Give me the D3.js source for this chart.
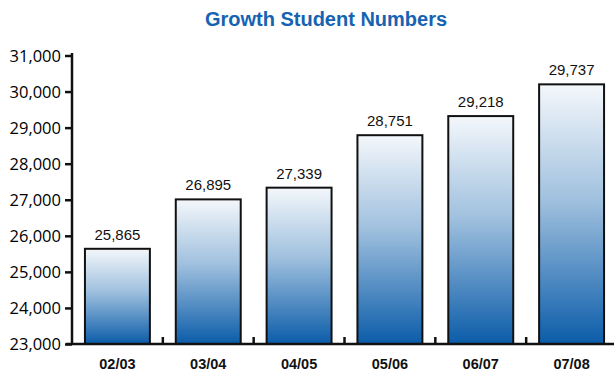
<!DOCTYPE html>
<html lang="en">
<head>
    <meta charset="UTF-8">
    <title>Growth Student Numbers</title>
    <script src="https://d3js.org/d3.v7.min.js"></script>
    <style>
        html, body {
            margin: 0;
            padding: 0;
            background: #fff;
        }
        svg {
            display: block;
        }
        .y-axis text {
            font-family: "Open Sans", sans-serif;
            font-size: 16.5px;
            fill: #000;
        }
        .x-axis text {
            font-family: "Liberation Sans", Arial, sans-serif;
            font-size: 14.5px;
            font-weight: bold;
            fill: #111;
        }
    </style>
</head>
<body>
    <svg id="chart"></svg>

    <script>
        // school years on the x axis
        const years = ["02/03", "03/04", "04/05", "05/06", "06/07", "07/08"];
        // numbers printed above the bars
        const printed = [25865, 26895, 27339, 28751, 29218, 29737];
        // bar heights as drawn in the picture (they don't quite match the printed numbers)
        const plotted = [25640, 27010, 27335, 28790, 29320, 30200];
        const yTicks = [23000, 24000, 25000, 26000, 27000, 28000, 29000, 30000, 31000];

        const width = 614, height = 371;

        const svg = d3.select("#chart")
            .attr("width", width)
            .attr("height", height);

        const defs = svg.append("defs");
        const grad = defs.append("linearGradient")
            .attr("id", "barFill")
            .attr("x1", 0).attr("y1", 0)
            .attr("x2", 0).attr("y2", 1);
        grad.append("stop").attr("offset", "0%").attr("stop-color", "#f4f7fb");
        grad.append("stop").attr("offset", "45%").attr("stop-color", "#9fc0de");
        grad.append("stop").attr("offset", "100%").attr("stop-color", "#0b5ca9");

        const x = d3.scaleBand()
            .domain(years)
            .range([72, 617])
            .paddingInner(0.285)
            .paddingOuter(0.1425);

        const y = d3.scaleLinear()
            .domain([23000, 31000])
            .range([344, 55.5]);

        // title
        svg.append("text")
            .attr("x", 326)
            .attr("y", 26)
            .attr("text-anchor", "middle")
            .style("font-family", "'Liberation Sans', Arial, sans-serif")
            .style("font-weight", "bold")
            .style("font-size", "20px")
            .style("fill", "#1663b1")
            .text("Growth Student Numbers");

        // bars
        svg.selectAll("rect.bar")
            .data(years)
            .enter()
            .append("rect")
            .attr("class", "bar")
            .attr("x", d => x(d))
            .attr("y", (d, i) => y(plotted[i]))
            .attr("width", x.bandwidth())
            .attr("height", (d, i) => y(23000) - y(plotted[i]))
            .attr("fill", "url(#barFill)")
            .attr("stroke", "#111")
            .attr("stroke-width", 2);

        // value labels
        svg.selectAll("text.val")
            .data(years)
            .enter()
            .append("text")
            .attr("class", "val")
            .attr("x", d => x(d) + x.bandwidth() / 2)
            .attr("y", (d, i) => y(plotted[i]) - 9)
            .attr("text-anchor", "middle")
            .style("font-family", "'Liberation Sans', Arial, sans-serif")
            .style("font-size", "15px")
            .style("fill", "#111")
            .text((d, i) => d3.format(",")(printed[i]));

        // y axis
        const yAxis = svg.append("g")
            .attr("class", "y-axis")
            .attr("transform", "translate(72,0)")
            .call(d3.axisLeft(y).tickValues(yTicks).tickFormat(d3.format(",")).tickSize(7).tickPadding(4));
        yAxis.select(".domain").attr("stroke", "#111").attr("stroke-width", 2.5)
            .attr("d", "M0,53V344");
        yAxis.selectAll(".tick line").attr("stroke", "#111").attr("stroke-width", 2.5);
        yAxis.selectAll(".tick text").attr("dy", "0.35em");

        // x axis with short upward ticks between bars
        const xAxis = svg.append("g")
            .attr("class", "x-axis")
            .attr("transform", "translate(0,344)")
            .call(d3.axisBottom(x).tickSize(0).tickPadding(15));
        xAxis.select(".domain").attr("stroke", "#111").attr("stroke-width", 2.5)
            .attr("d", "M66,0H617");
        xAxis.selectAll(".tick text").attr("dy", "0.71em");

        const step = x.step();
        svg.append("g")
            .selectAll("line")
            .data(years.slice(1))
            .enter()
            .append("line")
            .attr("x1", d => x(d) - (step - x.bandwidth()) / 2)
            .attr("x2", d => x(d) - (step - x.bandwidth()) / 2)
            .attr("y1", 344)
            .attr("y2", 337)
            .attr("stroke", "#111")
            .attr("stroke-width", 2.5);
    </script>
</body>
</html>
